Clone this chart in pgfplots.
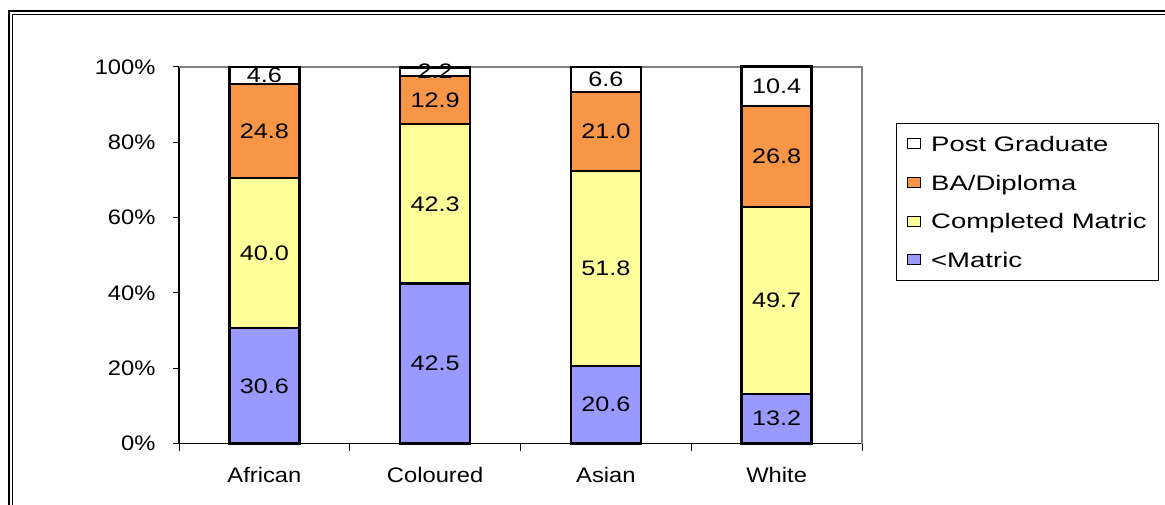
\documentclass[border=0pt]{standalone}
\usepackage{pgfplots}
\pgfplotsset{compat=1.18}
\usepackage{pgfplotstable}
\usepackage{fontspec}
\setmainfont{Liberation Sans}[FakeStretch=1.13]
\newfontfamily\legfont{Liberation Sans}[FakeStretch=1.31]
\newfontfamily\datfont{Liberation Sans}[FakeStretch=1.2]
\definecolor{cblue}{RGB}{153,153,255}
\definecolor{cyel}{RGB}{255,255,153}
\definecolor{corange}{RGB}{247,150,70}
\definecolor{cgray}{RGB}{128,128,128}
\pgfplotstableread{
x lm cm ba pg
0 30.6 40.0 24.8 4.6
1 42.5 42.3 12.9 2.2
2 20.6 51.8 21.0 6.6
3 13.2 49.7 26.8 10.4
}\datatable
\newcommand\cf{\fontsize{21bp}{25bp}\selectfont}
\begin{document}
\begin{tikzpicture}[font=\cf]
\useasboundingbox (0,0) rectangle (1165bp,505bp);
\draw[line width=2.5bp] (9bp,-20bp) -- (9bp,494bp) -- (1200bp,494bp);
\draw[line width=1bp] (12.5bp,-20bp) -- (12.5bp,490.5bp) -- (1200bp,490.5bp);
\begin{axis}[
  at={(179bp,61.5bp)}, anchor=south west,
  scale only axis, width=683bp, height=376.5bp,
  ybar stacked, bar width=0.41,
  xmin=-0.5, xmax=3.5, ymin=0, ymax=100,
  clip=false,
  axis x line*=bottom, axis y line*=left,
  axis line style={black, line width=1.2bp},
  xtick={0,1,2,3}, xticklabels={African,Coloured,Asian,White},
  major x tick style={draw=none},
  minor xtick={-0.5,0.5,1.5,2.5,3.5},
  minor tick length=7bp,
  ytick={0,20,...,100},
  yticklabel={\pgfmathparse{int(round(\tick))}\pgfmathresult\%},
  tick align=outside, major tick length=6bp,
  tick style={black, line width=1bp},
  xticklabel style={anchor=base, yshift=-33bp, font=\cf},
  yticklabel style={anchor=east, xshift=-14bp, font=\cf},
  point meta=explicit,
  nodes near coords={\pgfmathprintnumber[fixed,fixed zerofill,precision=1,assume math mode=true]{\pgfplotspointmeta}},
  every node near coord/.append style={anchor=center, font=\datfont\cf, text=black},
  legend style={at={(rel axis cs:1.0498,0.8513)}, anchor=north west, draw=black, line width=1bp,
    inner xsep=10bp, inner ysep=10bp, row sep=17.6bp, font=\legfont\cf,
    nodes={inner ysep=3bp, text height=15bp, text depth=0bp}},
  legend cell align=left,
  reverse legend,
  legend image code/.code={\draw[#1, draw=black, line width=1bp] (0bp,-5bp) rectangle (13bp,5bp); \path (21bp,0bp);},
]
\addplot[fill=cblue, draw=black, line width=2.3bp] table[x=x, y=lm, meta=lm] {\datatable};
\addplot[fill=cyel, draw=black, line width=2.3bp] table[x=x, y=cm, meta=cm] {\datatable};
\addplot[fill=corange, draw=black, line width=2.3bp] table[x=x, y=ba, meta=ba] {\datatable};
\addplot[fill=white, draw=black, line width=2.3bp] table[x=x, y=pg, meta=pg] {\datatable};
\legend{<Matric,Completed Matric,BA/Diploma,Post Graduate}
\draw[cgray, line width=2bp] (rel axis cs:0,1) -- (rel axis cs:1,1) -- (rel axis cs:1,0);
\end{axis}
\end{tikzpicture}
\end{document}
